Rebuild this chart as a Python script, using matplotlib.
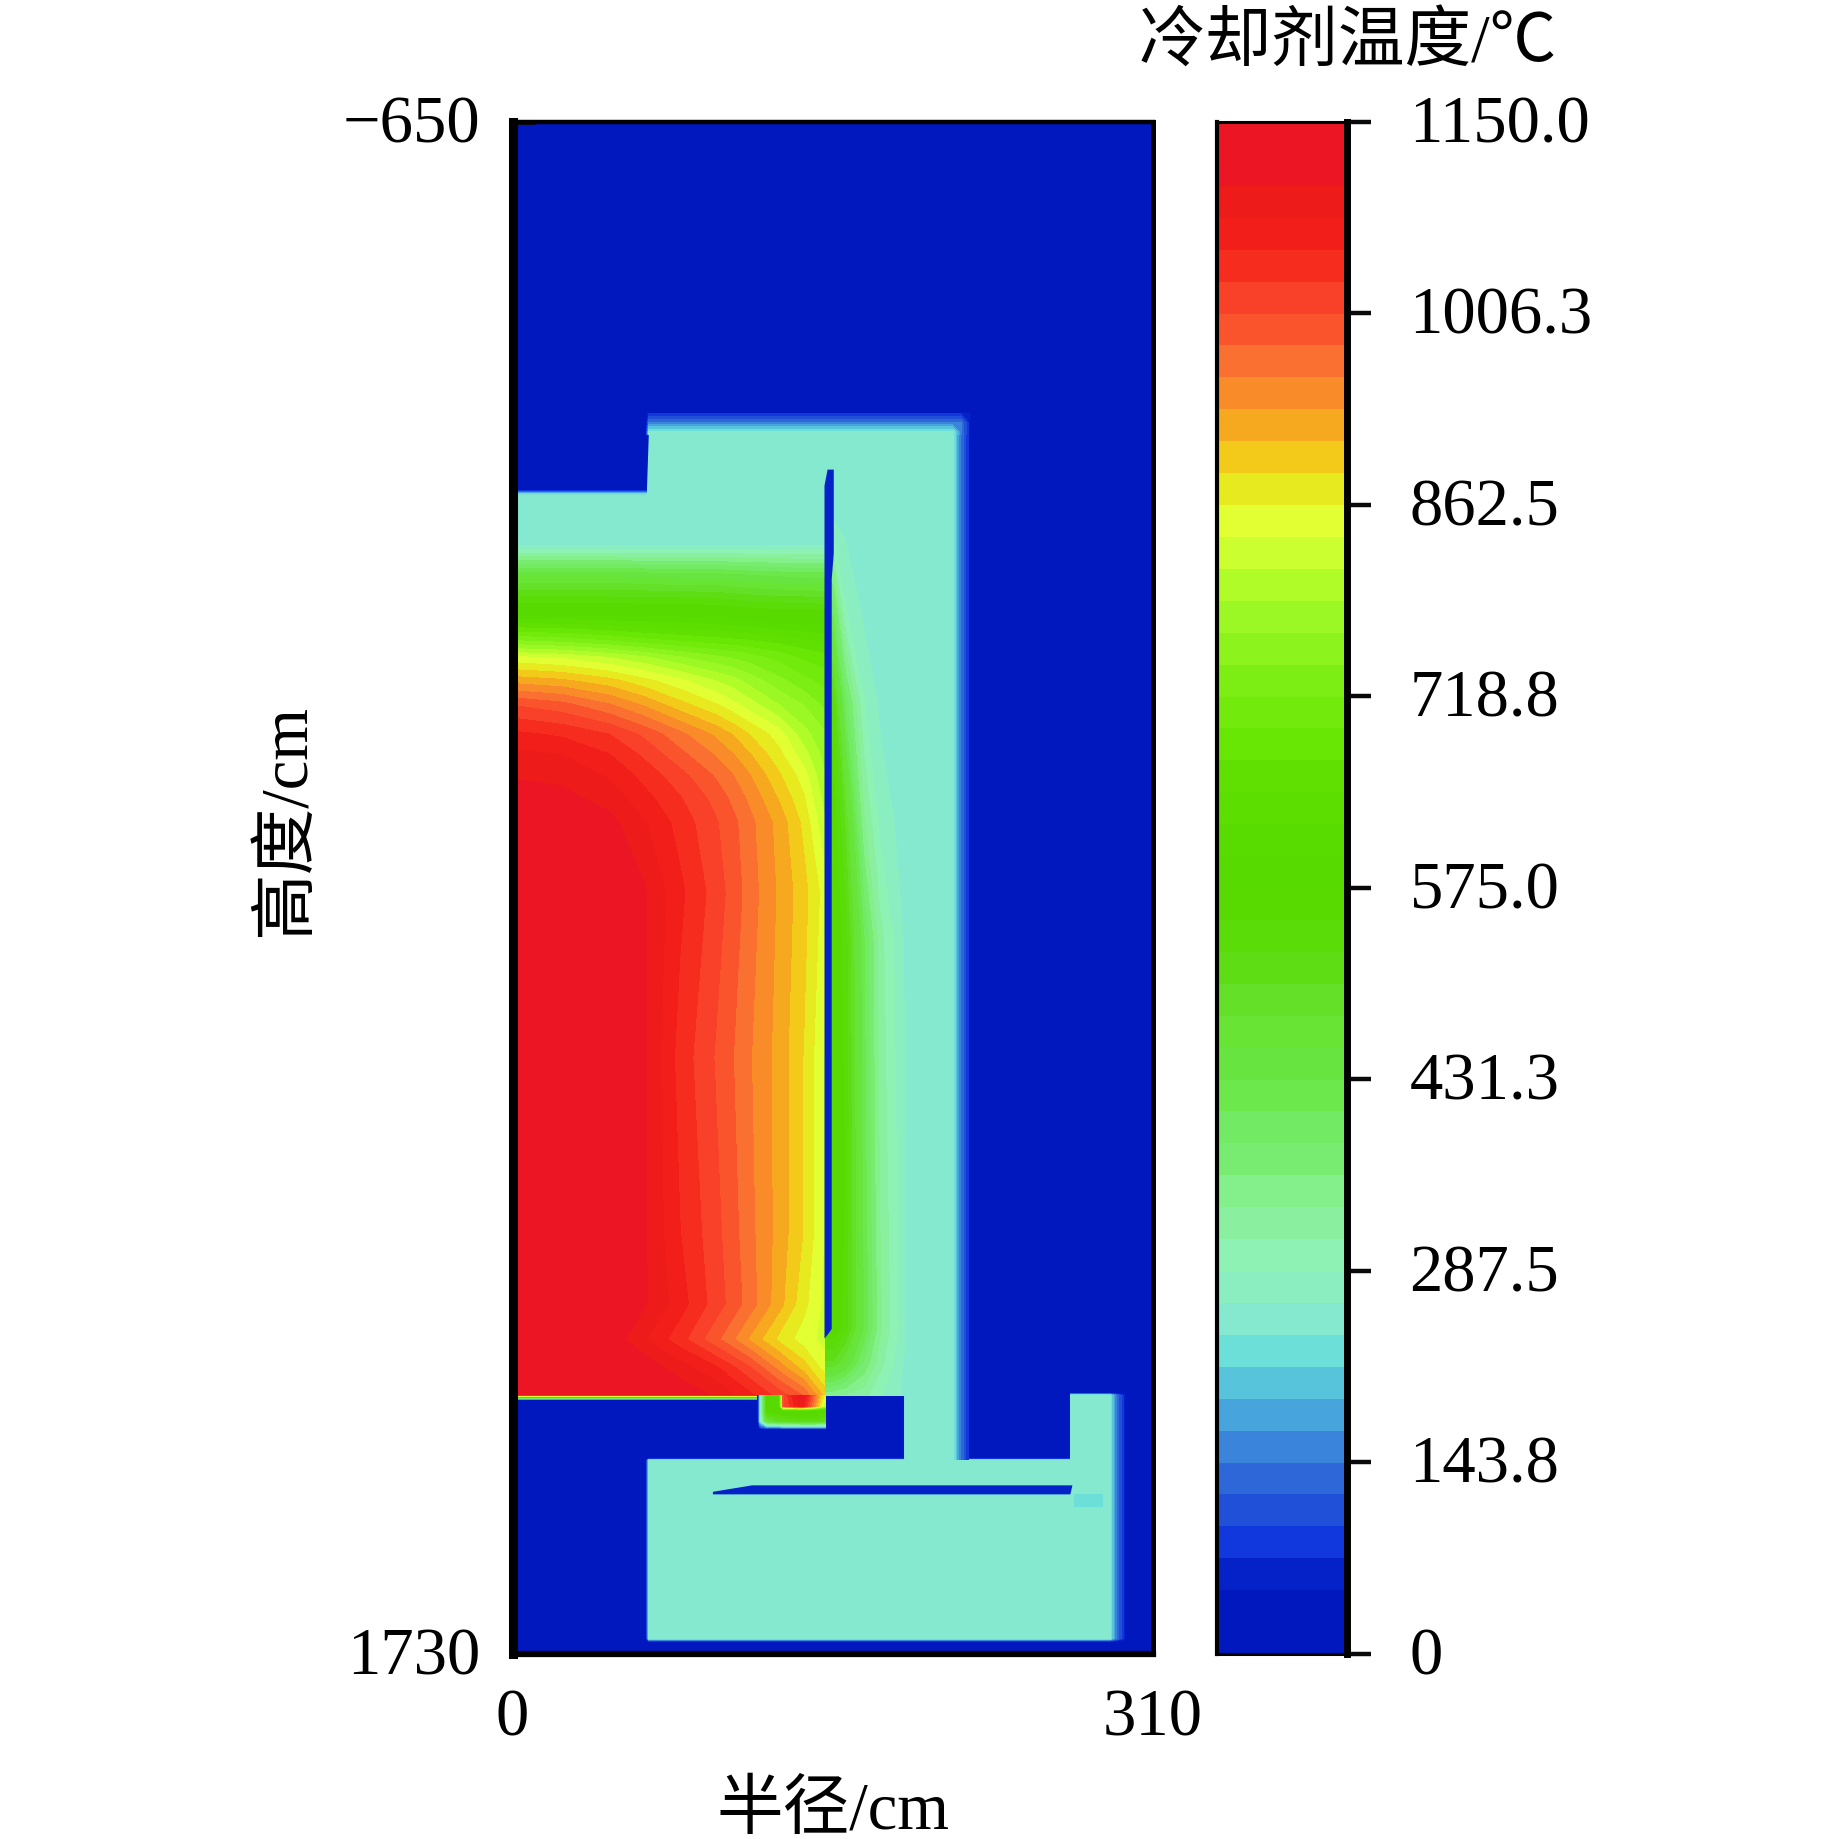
import numpy as np
import matplotlib
matplotlib.use("Agg")
import matplotlib.pyplot as plt
from matplotlib.colors import ListedColormap, BoundaryNorm
from matplotlib.transforms import ScaledTranslation

plt.rcParams['font.family'] = ['Liberation Serif', 'Noto Sans CJK SC']
plt.rcParams['axes.unicode_minus'] = True

#colour bands of the legend, bottom to top
bandColors = ["#0018BE", "#0018BE", "#0522C8", "#1038DC", "#2050D8", "#2E68D8",
              "#3A84DC", "#48A4DC", "#58C4DC", "#6CDFD8", "#85E9D0", "#8AEEC0",
              "#8EF2B4", "#8AF0A0", "#84F08C", "#78EC70", "#72EA64", "#6CE84C",
              "#68E440", "#68E534", "#64E028", "#5EDC14", "#5ADC08", "#58DA00",
              "#56DA00", "#58DC00", "#5CDE00", "#60E000", "#68E604", "#72EA0C",
              "#7CEE14", "#8CF41C", "#9CF824", "#B0FC28", "#CCFF30", "#E2FF33",
              "#E8EA20", "#F4CA1A", "#F6A81E", "#F98C28", "#F97031", "#FA542C",
              "#F94029", "#F62C1F", "#F21E1A", "#EE1B1B", "#EC1524", "#EC1524"]
cbarTicks = [0, 143.8, 287.5, 431.3, 575.0, 718.8, 862.5, 1006.3, 1150.0]
cbarLabels = ["0", "143.8", "287.5", "431.3", "575.0", "718.8", "862.5", "1006.3", "1150.0"]
tMax = 1150.0

#flat coolant temperature (the aqua band)
coolantT = 252

#outline of the whole coolant region
coolantR = [0, 65, 66, 213, 213, 270, 270, 289, 289, 66, 66, 189.5, 189.5, 0]
coolantZ = [-72, -72, -168, -168, 1429, 1429, 1328, 1328, 1706, 1706, 1429, 1429, 1328, 1328]

#hot core, rows are heights
coreR = [0, 24, 47, 64, 81, 98, 107, 115, 129, 141, 151.5]
coreZ = [5, 54, 109, 155, 182, 218, 255, 301, 333, 365, 400, 438, 547, 803, 1076, 1186, 1241, 1286, 1328]
coreT = [[252, 252, 252, 252, 252, 252, 252, 252, 252, 252, 252],
         [450, 450, 450, 445, 440, 440, 435, 430, 425, 420, 420],
         [575, 575, 575, 575, 575, 570, 565, 560, 555, 555, 550],
         [740, 730, 715, 700, 690, 680, 675, 670, 660, 650, 640],
         [845, 835, 815, 795, 770, 750, 740, 730, 710, 690, 680],
         [925, 915, 895, 870, 845, 815, 800, 780, 750, 725, 710],
         [1005, 990, 960, 930, 895, 865, 845, 825, 790, 765, 735],
         [1060, 1050, 1030, 1000, 965, 930, 908, 885, 850, 800, 770],
         [1085, 1078, 1055, 1025, 990, 957, 935, 912, 870, 825, 780],
         [1100, 1095, 1075, 1045, 1015, 980, 958, 935, 890, 850, 790],
         [1115, 1110, 1092, 1062, 1032, 998, 975, 952, 908, 865, 802],
         [1125, 1120, 1110, 1080, 1045, 1010, 988, 965, 925, 880, 815],
         [1140, 1135, 1125, 1105, 1060, 1020, 995, 970, 930, 895, 850],
         [1150, 1150, 1125, 1105, 1045, 1005, 982, 960, 925, 885, 835],
         [1150, 1150, 1130, 1105, 1055, 1015, 990, 965, 925, 885, 835],
         [1150, 1145, 1130, 1105, 1065, 1020, 995, 970, 920, 870, 830],
         [1150, 1140, 1120, 1080, 1040, 990, 960, 930, 880, 850, 830],
         [1150, 1150, 1140, 1120, 1090, 1060, 1035, 1010, 950, 900, 850],
         [1150, 1150, 1150, 1140, 1120, 1100, 1080, 1060, 1020, 980, 900]]

#warm part of the wall right of the thin gap
wallR = [151.5, 155, 161, 170, 178, 189.5]
wallZ = [-37, 109, 255, 438, 620, 985, 1223, 1277, 1328]
wallT = [[252, 260, 255, 252, 252, 252],
         [400, 400, 290, 258, 252, 252],
         [540, 540, 400, 290, 258, 252],
         [570, 570, 500, 340, 280, 252],
         [575, 575, 540, 410, 320, 262],
         [575, 575, 550, 420, 330, 268],
         [575, 575, 540, 430, 340, 270],
         [500, 500, 460, 380, 320, 262],
         [340, 340, 330, 320, 290, 258]]

#thin film under the core
filmR = [0, 120]
filmZ = [1328, 1330, 1332, 1334, 1336]
filmT = [[1100, 1100], [850, 850], [575, 575], [250, 250], [0, 0]]

#small pot under the core
potR = [118.5, 120, 123, 129, 131, 140, 146, 151.5]
potZ = [1328, 1345, 1352, 1368, 1378, 1381]
potT = [[0, 252, 560, 580, 1000, 1120, 970, 850],
        [0, 252, 560, 580, 1000, 1090, 950, 800],
        [0, 252, 560, 570, 590, 590, 590, 560],
        [0, 252, 450, 500, 500, 520, 520, 500],
        [0, 100, 150, 160, 180, 180, 180, 180],
        [0, 0, 0, 0, 0, 0, 0, 0]]

#soft blue edges of the coolant
topEdgeR = [64.5, 66, 213, 217, 221]
topEdgeZ = [-197, -182, -168, -164]
topEdgeT = [[0, 70, 70, 70, 70], [0, 150, 150, 150, 70], [0, 252, 252, 150, 70], [0, 252, 252, 150, 70]]
sideEdgeR = [211, 213, 217, 221]
sideEdgeZ = [-164, 1429]
sideEdgeT = [[252, 252, 150, 70], [252, 252, 150, 70]]
plenumEdgeR = [270, 287, 289, 292, 296]
plenumEdgeZ = [1324, 1328, 1706, 1712]
plenumEdgeT = [[0, 0, 0, 0, 0], [252, 252, 252, 150, 70],
               [252, 252, 252, 150, 70], [0, 0, 0, 0, 0]]
stepEdgeR = [0, 65]
stepEdgeZ = [-80, -72]
stepEdgeT = [[0, 0], [252, 252]]
floorEdgeR = [64.5, 66, 287]
floorEdgeZ = [1426, 1429, 1706, 1712]
floorEdgeT = [[0, 0, 0], [0, 252, 252], [0, 252, 252], [0, 0, 0]]

#blue gaps and the small lighter cell
wallGapR = [151, 152.5, 155.5, 155.5, 154.5, 154.5, 153, 151]
wallGapZ = [-85, -110, -110, 20, 60, 1225, 1232, 1240]
plenumGapR = [97, 116, 271, 270, 97]
plenumGapZ = [1478, 1468, 1468, 1482, 1482]
cellR = [272, 286, 286, 272]
cellZ = [1482, 1482, 1502, 1502]
cellT = 230

levels = np.linspace(0, tMax, len(bandColors) + 1)
cmap = ListedColormap(bandColors)
norm = BoundaryNorm(levels, cmap.N)

W, H = 1843, 1840
fig = plt.figure(figsize=(W / 100, H / 100), dpi=100)

def axesAt(x0, x1, y0, y1):
    return fig.add_axes([x0 / W, 1 - y1 / H, (x1 - x0) / W, (y1 - y0) / H])

ax = axesAt(512.5, 1153, 123, 1655)
cax = axesAt(1217, 1347, 123, 1655)

def field(r, z, t):
    ax.contourf(r, z, np.array(t, dtype=float), levels=levels, cmap=cmap, norm=norm)

#lift tick labels a few pixels, the font sits lower than the original
def lift(labels, px):
    for label in labels:
        label.set_transform(label.get_transform() + ScaledTranslation(0, px / 100, fig.dpi_scale_trans))

ax.set_facecolor(bandColors[0])
field(floorEdgeR, floorEdgeZ, floorEdgeT)
ax.fill(coolantR, coolantZ, color=cmap(norm(coolantT)), lw=0)
field(topEdgeR, topEdgeZ, topEdgeT)
field(sideEdgeR, sideEdgeZ, sideEdgeT)
field(plenumEdgeR, plenumEdgeZ, plenumEdgeT)
field(stepEdgeR, stepEdgeZ, stepEdgeT)
field(coreR, coreZ, coreT)
field(wallR, wallZ, wallT)
field(filmR, filmZ, filmT)
field(potR, potZ, potT)
ax.fill(wallGapR, wallGapZ, color=bandColors[2], lw=0)
ax.fill(plenumGapR, plenumGapZ, color=bandColors[2], lw=0)
ax.fill(cellR, cellZ, color=cmap(norm(cellT)), lw=0)

ax.set_xlim(0, 310)
ax.set_ylim(1730, -650)
ax.set_xticks([0, 310])
ax.set_yticks([-650, 1730])
ax.set_yticklabels(["\u2212650", "1730"])
ax.tick_params(direction="in", length=16, width=3.5, labelsize=48, color="#0a0a0a")
ax.tick_params(axis="x", pad=24)
ax.tick_params(axis="y", pad=23)
lift(ax.get_yticklabels(), 4)
ax.spines["left"].set_linewidth(6.5)
ax.spines["bottom"].set_linewidth(4.5)
ax.spines["top"].set_linewidth(3.2)
ax.spines["right"].set_linewidth(3.6)
ax.set_xlabel("半径/cm", fontsize=48)
ax.xaxis.set_label_coords(0.5, -0.083)
ax.set_ylabel("高度/cm", fontsize=48)
ax.yaxis.set_label_coords(-0.303, 0.545)

#legend bar
cax.pcolormesh([0, 1], levels, (levels[:-1] + 12)[:, None], cmap=cmap, norm=norm)
cax.set_xlim(0, 1)
cax.set_ylim(0, tMax)
cax.set_xticks([])
cax.set_yticks(cbarTicks)
cax.set_yticklabels(cbarLabels)
cax.yaxis.tick_right()
cax.tick_params(axis="y", direction="out", length=17, width=3.2, pad=28, labelsize=48, color="#0a0a0a")
lift(cax.get_yticklabels(), 4)
cax.spines["left"].set_linewidth(3)
cax.spines["top"].set_linewidth(2.2)
cax.spines["bottom"].set_linewidth(2.2)
cax.spines["right"].set_linewidth(5)
fig.text(1348 / W, 1 - 44 / H, "冷却剂温度/℃", fontsize=48, ha="center", va="center")

fig.savefig("out.png", dpi=100)
